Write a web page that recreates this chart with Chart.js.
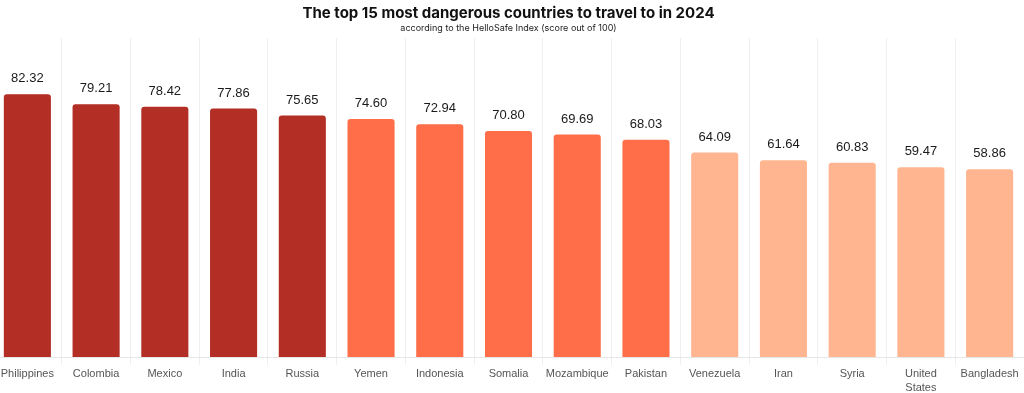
<!DOCTYPE html>
<html>
<head>
<meta charset="utf-8">
<script src="https://cdn.jsdelivr.net/npm/chart.js@4"></script>
<style>
  html, body { margin: 0; padding: 0; background: #fff; overflow: hidden; }
  #wrap { position: absolute; left: -7px; top: 0; width: 1031px; height: 397px; }
</style>
</head>
<body>
<div id="wrap"><canvas id="myChart"></canvas></div>
<script>
const countries = ['Philippines', 'Colombia', 'Mexico', 'India', 'Russia', 'Yemen', 'Indonesia',
  'Somalia', 'Mozambique', 'Pakistan', 'Venezuela', 'Iran', 'Syria', ['United', 'States'], 'Bangladesh'];
const scores = [82.32, 79.21, 78.42, 77.86, 75.65, 74.60, 72.94, 70.80, 69.69, 68.03, 64.09, 61.64, 60.83, 59.47, 58.86];
const tiers = [0, 0, 0, 0, 0, 1, 1, 1, 1, 1, 2, 2, 2, 2, 2];
const TIER_COLORS = ['#b32e25', '#ff6e48', '#ffb690'];

// value labels on top of each bar
const valueLabels = {
  id: 'valueLabels',
  afterDatasetsDraw(chart) {
    const ctx = chart.ctx;
    const meta = chart.getDatasetMeta(0);
    ctx.save();
    ctx.font = '13px "Liberation Sans", Arial, sans-serif';
    ctx.fillStyle = '#1a1a1a';
    ctx.textAlign = 'center';
    ctx.textBaseline = 'bottom';
    meta.data.forEach((bar, i) => {
      ctx.fillText(scores[i].toFixed(2), bar.x, bar.y - 9);
    });
    ctx.restore();
  }
};

var ctx = document.getElementById('myChart');
var chart = new Chart(ctx, {
  type: 'bar',
  data: {
    labels: countries,
    datasets: [{
      data: scores,
      backgroundColor: tiers.map(t => TIER_COLORS[t]),
      borderRadius: { topLeft: 3, topRight: 3 },
      borderSkipped: 'bottom',
      barPercentage: 0.685,
      categoryPercentage: 1
    }]
  },
  options: {
    responsive: true,
    maintainAspectRatio: false,
    animation: false,
    layout: { padding: 0 },
    plugins: {
      legend: { display: false },
      tooltip: { enabled: false },
      title: {
        display: true,
        text: 'The top 15 most dangerous countries to travel to in 2024',
        color: '#111',
        font: { family: 'Inter', size: 15, weight: 'bold' },
        padding: { top: 4, bottom: 1 }
      },
      subtitle: {
        display: true,
        text: 'according to the HelloSafe Index (score out of 100)',
        color: '#222',
        font: { family: 'Inter', size: 9 },
        padding: { top: 0, bottom: 4 }
      }
    },
    scales: {
      x: {
        offset: true,
        grid: { offset: true, color: '#efefef', tickLength: 8, drawTicks: true },
        border: { color: '#e6e6e6' },
        ticks: {
          color: '#555',
          font: { family: '"Liberation Sans", Arial, sans-serif', size: 11, lineHeight: 1.27 },
          padding: 2,
          maxRotation: 0,
          autoSkip: false
        }
      },
      y: {
        display: false,
        min: 0,
        max: 100
      }
    }
  },
  plugins: [valueLabels]
});
</script>
</body>
</html>
